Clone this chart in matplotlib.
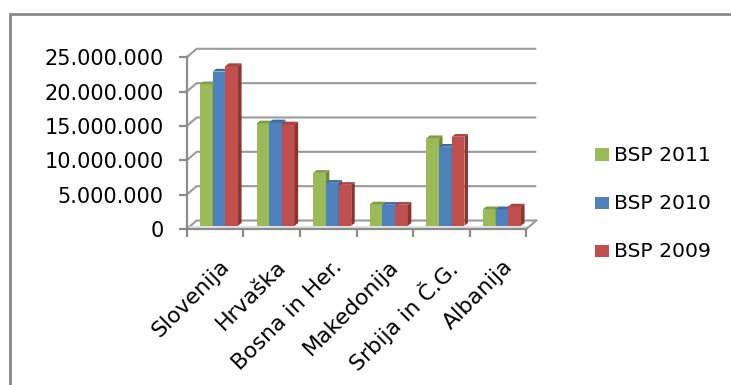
import matplotlib
matplotlib.use('Agg')
import matplotlib.pyplot as plt
from matplotlib.patches import Polygon, Rectangle
from matplotlib.lines import Line2D
from matplotlib.ticker import FuncFormatter, FixedLocator

# ---------------- data ----------------
categories = ['Slovenija', 'Hrvaška', 'Bosna in Her.', 'Makedonija', 'Srbija in Č.G.', 'Albanija']
series_names = ['BSP 2011', 'BSP 2010', 'BSP 2009']
bsp_2011 = [20.6e6, 14.9e6, 7.7e6, 3.1e6, 12.75e6, 2.4e6]
bsp_2010 = [22.45e6, 15.05e6, 6.25e6, 3.05e6, 11.5e6, 2.4e6]
bsp_2009 = [23.25e6, 14.75e6, 5.95e6, 3.05e6, 12.95e6, 2.8e6]
y_ticks = [0, 5e6, 10e6, 15e6, 20e6, 25e6]

series = [bsp_2011, bsp_2010, bsp_2009]
front_cols = ['#9BBB59', '#4F81BD', '#C0504D']
side_cols = ['#6F8A3C', '#375E8C', '#8A3432']
top_cols = ['#809E47', '#3F6B9F', '#A8433F']

# ---------------- geometry (pixels) ----------------
W, H = 731, 385
x0_px, y0_px = 186.7, 229.0       # front-left corner of floor
cat_px = 56.6                      # pixels per category
ymax = y_ticks[-1]
val_px = (229.0 - 57.3) / ymax     # pixels per unit value
wall_dx_px, wall_dy_px = 10.0, 8.5
ncat = len(categories)

def dxp(px):
    return px / cat_px

def dyp(px):
    return px / val_px

fig = plt.figure(figsize=(W / 100, H / 100), dpi=100)
ax_w = ncat * cat_px + wall_dx_px
ax_h = ymax * val_px + wall_dy_px
ax = fig.add_axes([x0_px / W, (H - y0_px) / H, ax_w / W, ax_h / H])
ax.set_xlim(0, ncat + dxp(wall_dx_px))
ax.set_ylim(0, ymax + dyp(wall_dy_px))
ax.patch.set_alpha(0)

grid_col = '#9a9a9a'
axis_col = '#8c8c8c'
wdx, wdy = dxp(wall_dx_px), dyp(wall_dy_px)

# back wall gridlines with side-wall diagonals
for v in y_ticks:
    ax.plot([0, wdx, ncat + wdx], [v, v + wdy, v + wdy], color=grid_col, lw=1.5,
            zorder=1, solid_capstyle='butt', clip_on=False)

# floor: front band and right edge
ax.add_patch(Polygon([(0, 0), (ncat, 0), (ncat + dxp(3.5), dyp(3)), (dxp(3.5), dyp(3))],
                     closed=True, facecolor='#e2e2e2', edgecolor='none', zorder=1.2, clip_on=False))
ax.plot([ncat, ncat + wdx], [0, wdy], color=grid_col, lw=1.5, zorder=1.3, clip_on=False)

# bars (pseudo 3D)
w = 12.7 / cat_px
bar_ox, bar_oy = dxp(4.0), dyp(3.3)
bdx, bdy = dxp(3.5), dyp(2.7)
nser = len(series)
z = 3
for i in range(ncat):
    start = i + (1 - nser * w) / 2 + bar_ox
    for j in range(nser):
        v = series[j][i]
        xl = start + j * w
        ax.bar(xl, v, width=w, bottom=bar_oy, align='edge', color=front_cols[j],
               linewidth=0, zorder=z)
        z += 0.01
        ax.add_patch(Polygon([(xl + w, bar_oy), (xl + w + bdx, bar_oy + bdy),
                              (xl + w + bdx, bar_oy + v + bdy), (xl + w, bar_oy + v)],
                             closed=True, facecolor=side_cols[j], edgecolor='none', zorder=z))
        z += 0.01
        ax.add_patch(Polygon([(xl, bar_oy + v), (xl + bdx, bar_oy + v + bdy),
                              (xl + w + bdx, bar_oy + v + bdy), (xl + w, bar_oy + v)],
                             closed=True, facecolor=top_cols[j], edgecolor='none', zorder=z))
        z += 0.01

# axes spines / ticks
for s in ['top', 'right']:
    ax.spines[s].set_visible(False)
ax.spines['left'].set_bounds(0, ymax)
ax.spines['bottom'].set_bounds(0, ncat)
for s in ['left', 'bottom']:
    ax.spines[s].set_color(axis_col)
    ax.spines[s].set_linewidth(1.6)
    ax.spines[s].set_zorder(10)

fs_y = 15.0
fs_x = 15.8
fs_leg = 14.6
ax.yaxis.set_major_locator(FixedLocator(y_ticks))
ax.yaxis.set_major_formatter(FuncFormatter(lambda v, p: f"{int(round(v)):,}".replace(',', '.')))
ax.tick_params(axis='y', which='major', direction='out', length=6, width=1.6, color=axis_col,
               pad=10.5, labelsize=fs_y, labelcolor='black')

ax.xaxis.set_major_locator(FixedLocator(list(range(ncat + 1))))
ax.xaxis.set_major_formatter(FuncFormatter(lambda v, p: ''))
ax.xaxis.set_minor_locator(FixedLocator([i + 0.5 + dxp(4) for i in range(ncat)]))
ax.set_xticklabels(categories, minor=True)
ax.tick_params(axis='x', which='major', direction='out', length=5.5, width=1.6, color=axis_col)
ax.tick_params(axis='x', which='minor', length=0, pad=19.5, labelsize=fs_x)
for lab in ax.get_xticklabels(minor=True):
    lab.set_rotation(45)
    lab.set_ha('right')
    lab.set_va('top')
    lab.set_rotation_mode('anchor')

# outer chart frame (left and top edges visible)
fig.add_artist(Line2D([9.5 / W, 9.5 / W, 1.01], [0, 1 - 13.5 / H, 1 - 13.5 / H],
                      transform=fig.transFigure, color='#8a8a8a', lw=2.0,
                      solid_joinstyle='miter'))

# legend
leg_base = [161.0, 209.3, 257.3]
for j, name in enumerate(series_names):
    b = leg_base[j]
    fig.add_artist(Rectangle((595 / W, 1 - b / H), 13.8 / W, 12.6 / H,
                             transform=fig.transFigure, facecolor=front_cols[j], edgecolor='none'))
    fig.text(614.0 / W, 1 - b / H, name, fontsize=fs_leg, va='baseline', ha='left', color='black')

fig.savefig('out.png', dpi=100)
